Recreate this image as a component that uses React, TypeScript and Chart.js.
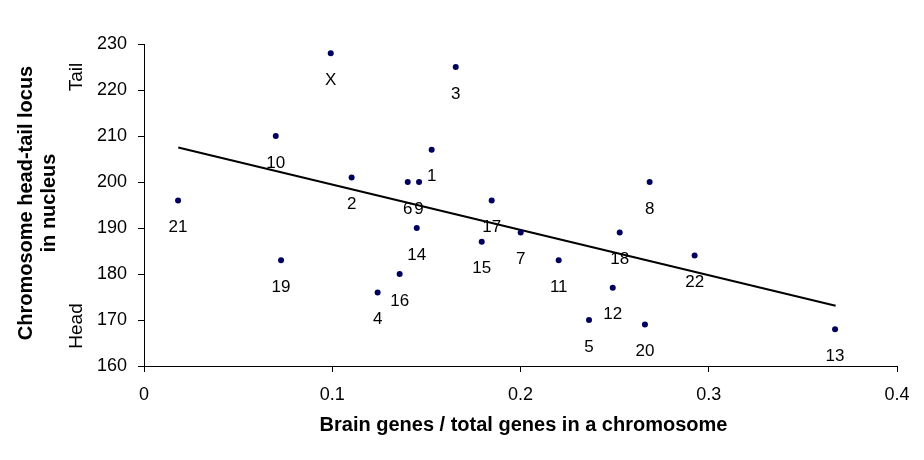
import React, { useEffect, useRef } from "react";
import { Chart, registerables } from "chart.js";

Chart.register(...registerables);

const labels = ["X", "3", "10", "1", "2", "6", "9", "8", "21", "17", "15", "7", "18", "11", "19", "22", "12", "5", "20", "13", "14", "16", "4"];
const xValues = [0.0992, 0.1656, 0.07, 0.1528, 0.1103, 0.1401, 0.1461, 0.2686, 0.0181, 0.1847, 0.1794, 0.2001, 0.2527, 0.2203, 0.0728, 0.2925, 0.249, 0.2364, 0.2661, 0.3671, 0.1449, 0.1358, 0.1241];
const yValues = [228, 225, 210, 207, 201, 200, 200, 200, 196, 196, 187, 189, 189, 183, 183, 184, 177, 170, 169, 168, 190, 180, 176];
const trendX = [0.0182, 0.3674];
const trendY = [207.5, 173.1];
const xTicks = [0, 0.1, 0.2, 0.3, 0.4];
const yTicks = [160, 170, 180, 190, 200, 210, 220, 230];
const xTitle = "Brain genes / total genes in a chromosome";
const yTitleLines = ["Chromosome head-tail locus", "in nucleus"];
const tailLabel = "Tail";
const headLabel = "Head";

const FONT = "'Liberation Sans', Arial, sans-serif";

export default function App() {
  const ref = useRef<HTMLCanvasElement | null>(null);

  useEffect(() => {
    document.body.style.margin = "0";
    const canvas = ref.current;
    if (!canvas) return;

    const annotate = {
      id: "annotate",
      afterDraw(chart: any) {
        const ctx = chart.ctx;
        const area = chart.chartArea;
        ctx.save();
        ctx.fillStyle = "#000";
        // point labels
        const meta = chart.getDatasetMeta(0);
        ctx.font = `17px ${FONT}`;
        ctx.textAlign = "center";
        ctx.textBaseline = "middle";
        meta.data.forEach((el: any, i: number) => {
          ctx.fillText(labels[i], el.x, el.y + 27);
        });
        // x title
        ctx.font = `bold 20px ${FONT}`;
        ctx.textAlign = "center";
        ctx.textBaseline = "alphabetic";
        ctx.fillText(xTitle, (area.left + area.right) / 2 + 3, 431);
        // y title
        const cy = (area.top + area.bottom) / 2 - 2;
        ctx.save();
        ctx.translate(32, cy);
        ctx.rotate(-Math.PI / 2);
        ctx.fillText(yTitleLines[0], 0, 0);
        ctx.restore();
        ctx.save();
        ctx.translate(55, cy);
        ctx.rotate(-Math.PI / 2);
        ctx.fillText(yTitleLines[1], 0, 0);
        ctx.restore();
        // Tail / Head
        ctx.font = `19px ${FONT}`;
        ctx.save();
        ctx.translate(82, 77);
        ctx.rotate(-Math.PI / 2);
        ctx.fillText(tailLabel, 0, 0);
        ctx.restore();
        ctx.save();
        ctx.translate(82, 326);
        ctx.rotate(-Math.PI / 2);
        ctx.fillText(headLabel, 0, 0);
        ctx.restore();
        ctx.restore();
      },
    };

    const chart = new Chart(canvas, {
      type: "scatter",
      data: {
        datasets: [
          {
            type: "scatter",
            data: xValues.map((x, i) => ({ x, y: yValues[i] })),
            backgroundColor: "#00005e",
            borderColor: "#00005e",
            borderWidth: 0,
            pointRadius: 3,
          },
          {
            type: "line",
            data: trendX.map((x, i) => ({ x, y: trendY[i] })),
            borderColor: "#000",
            borderWidth: 2,
            pointRadius: 0,
            fill: false,
          } as any,
        ],
      },
      options: {
        responsive: false,
        animation: false,
        layout: { padding: { left: 0, top: 44, right: 27, bottom: 0 } },
        plugins: { legend: { display: false }, tooltip: { enabled: false } },
        scales: {
          x: {
            type: "linear",
            min: 0,
            max: 0.4,
            afterFit(scale: any) {
              scale.height = 94;
            },
            afterBuildTicks(scale: any) {
              scale.ticks = xTicks.map((v) => ({ value: v }));
            },
            border: { color: "#000", width: 1 },
            grid: { drawOnChartArea: false, drawTicks: true, tickLength: 6, color: "#000" },
            ticks: {
              color: "#000",
              font: { family: FONT, size: 18 },
              padding: 12,
              maxRotation: 0,
              callback: (v: any) => String(v),
            },
          },
          y: {
            type: "linear",
            min: 160,
            max: 230,
            afterFit(scale: any) {
              scale.width = 144;
            },
            afterBuildTicks(scale: any) {
              scale.ticks = yTicks.map((v) => ({ value: v }));
            },
            border: { color: "#000", width: 1 },
            grid: { drawOnChartArea: false, drawTicks: true, tickLength: 6, color: "#000" },
            ticks: {
              color: "#000",
              font: { family: FONT, size: 18 },
              padding: 11,
              callback: (v: any) => String(v),
            },
          },
        },
      },
      plugins: [annotate],
    });

    return () => chart.destroy();
  }, []);

  return (
    <div style={{ width: 924, height: 460, background: "#fff" }}>
      <canvas ref={ref} width={924} height={460} />
    </div>
  );
}
